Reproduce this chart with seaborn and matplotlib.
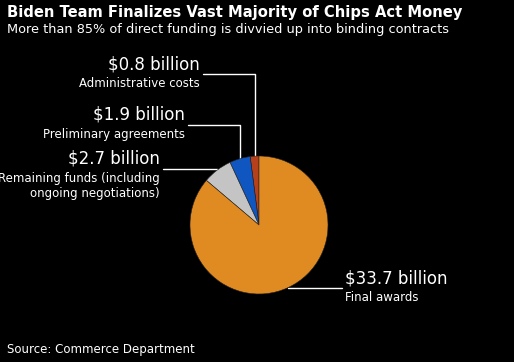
import numpy as np
import matplotlib
matplotlib.use("Agg")
import matplotlib.pyplot as plt
import seaborn as sns

# Data
labels = ["Administrative costs", "Preliminary agreements",
          "Remaining funds (including\nongoing negotiations)", "Final awards"]
values = [0.8, 1.9, 2.7, 33.7]
value_labels = ["$0.8 billion", "$1.9 billion", "$2.7 billion", "$33.7 billion"]
colors = ["#B5401C", "#0F56C0", "#C4C4C4", "#E08A22"]

sns.set_theme(style="dark", rc={"figure.facecolor": "black", "axes.facecolor": "black"})
plt.rcParams['font.family'] = ['DejaVu Sans']

W, H = 514, 362
fig = plt.figure(figsize=(W / 100, H / 100), dpi=100)

# overlay axes in pixel coords
ov = fig.add_axes([0, 0, 1, 1])
ov.set_xlim(0, W)
ov.set_ylim(H, 0)
ov.axis("off")

# pie axes
cx, cy, r = 259, 225, 69
pie_ax = fig.add_axes([(cx - r) / W, (H - cy - r) / H, 2 * r / W, 2 * r / H])
wedges, _ = pie_ax.pie(values, colors=colors, startangle=90, counterclock=True,
                       wedgeprops=dict(edgecolor="#222222", linewidth=0.4))
pie_ax.set_xlim(-1, 1)
pie_ax.set_ylim(-1, 1)
pie_ax.set_aspect("auto")
pie_ax.axis("off")
pie_ax.set_zorder(1)


def anchor(w):
    a = np.deg2rad((w.theta1 + w.theta2) / 2)
    return cx + r * np.cos(a), cy - r * np.sin(a)


# leader lines: (horizontal line y, text x, left/right)
layout = [(74, 203, "right"), (125, 188, "right"), (169, 163, "right"), (288, 342, "left")]
for w, (ly, tx, side), val, lab in zip(wedges, layout, value_labels, labels):
    ax_, ay_ = anchor(w)
    if side == "right":
        ov.plot([tx, ax_, ax_], [ly, ly, ay_], color="white", lw=1)
        ov.text(tx - 3, ly - 10, val, color="white", fontsize=12, ha="right", va="center")
        ov.text(tx - 3, ly + 3, lab, color="white", fontsize=8.5, ha="right", va="top",
                linespacing=1.25, multialignment="right")
    else:
        ov.plot([ax_, tx], [ly, ly], color="white", lw=1)
        ov.text(tx + 3, ly - 10, val, color="white", fontsize=12, ha="left", va="center")
        ov.text(tx + 3, ly + 3, lab, color="white", fontsize=8.5, ha="left", va="top")

ov.text(7, 12, "Biden Team Finalizes Vast Majority of Chips Act Money", color="white",
        fontsize=10.6, fontweight="bold", ha="left", va="center")
ov.text(7, 30, "More than 85% of direct funding is divvied up into binding contracts",
        color="white", fontsize=9.3, ha="left", va="center")
ov.text(7, 350, "Source: Commerce Department", color="white", fontsize=8.5,
        ha="left", va="center")

fig.savefig("out.png", dpi=100, facecolor="black")
